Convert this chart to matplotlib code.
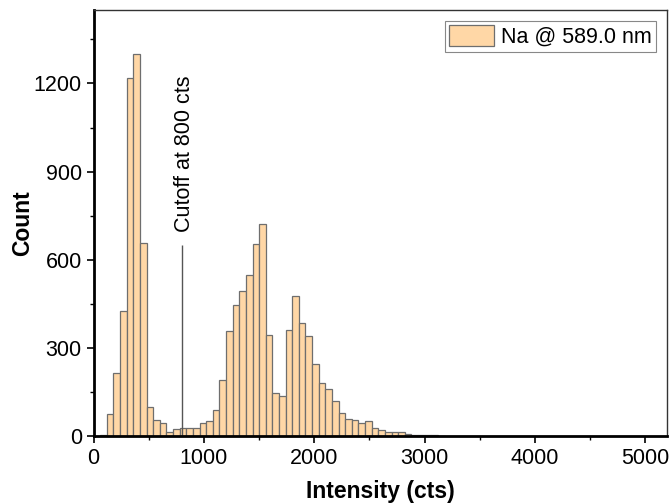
import numpy as np
import matplotlib
matplotlib.use("Agg")
import matplotlib.pyplot as plt
from matplotlib.ticker import MultipleLocator

plt.rcParams['font.family'] = ['Liberation Sans', 'DejaVu Sans']

# histogram of Na line intensity, 60 cts bins starting at 0
bin_width = 60
counts = [0, 5, 75, 216, 425, 1218, 1300, 657, 99, 54,
          43, 15, 24, 28, 28, 28, 45, 50, 90, 192,
          358, 446, 494, 549, 655, 720, 345, 148, 137, 362,
          475, 384, 340, 244, 182, 160, 118, 80, 59, 53,
          45, 50, 27, 19, 12, 14, 12, 7, 4, 4,
          3, 2, 1]
bin_left = np.arange(len(counts)) * bin_width

cutoff = 800
cutoff_top = 650
label = "Na @ 589.0 nm"

fig = plt.figure(figsize=(6.7, 5.03), dpi=100)
ax = fig.add_axes([0.1397, 0.1332, 0.8565, 0.8468])

ax.bar(bin_left, counts, width=bin_width, align='edge',
       facecolor='#FFD7A6', edgecolor='#6e6e6e', linewidth=0.9, label=label)

ax.vlines(cutoff, 0, cutoff_top, color='#555555', linewidth=1)
ax.text(cutoff + 20, cutoff_top + 45, f"Cutoff at {cutoff} cts", rotation=90,
        ha='center', va='bottom', fontsize=15.5)

ax.set_xlim(0, 5200)
ax.set_ylim(0, 1450)
ax.xaxis.set_major_locator(MultipleLocator(1000))
ax.xaxis.set_minor_locator(MultipleLocator(500))
ax.yaxis.set_major_locator(MultipleLocator(300))
ax.yaxis.set_minor_locator(MultipleLocator(150))

ax.tick_params(which='major', direction='out', length=5, width=1.2, labelsize=15.5)
ax.tick_params(which='minor', direction='out', length=3, width=1)

for side in ('left', 'bottom'):
    ax.spines[side].set_linewidth(2)
for side in ('top', 'right'):
    ax.spines[side].set_linewidth(1)
    ax.spines[side].set_color('#333333')

ax.set_xlabel("Intensity (cts)", fontsize=16.5, fontweight='bold', labelpad=8)
ax.set_ylabel("Count", fontsize=16.5, fontweight='bold', labelpad=0)

leg = ax.legend(loc='upper right', fontsize=15.5, fancybox=False,
                edgecolor='#888888', framealpha=1, handlelength=2.1,
                handleheight=1.1, borderpad=0.2, handletextpad=0.3,
                borderaxespad=0, bbox_to_anchor=(0.98, 0.974))
leg.get_frame().set_linewidth(0.8)

fig.savefig("out.png", dpi=100)
